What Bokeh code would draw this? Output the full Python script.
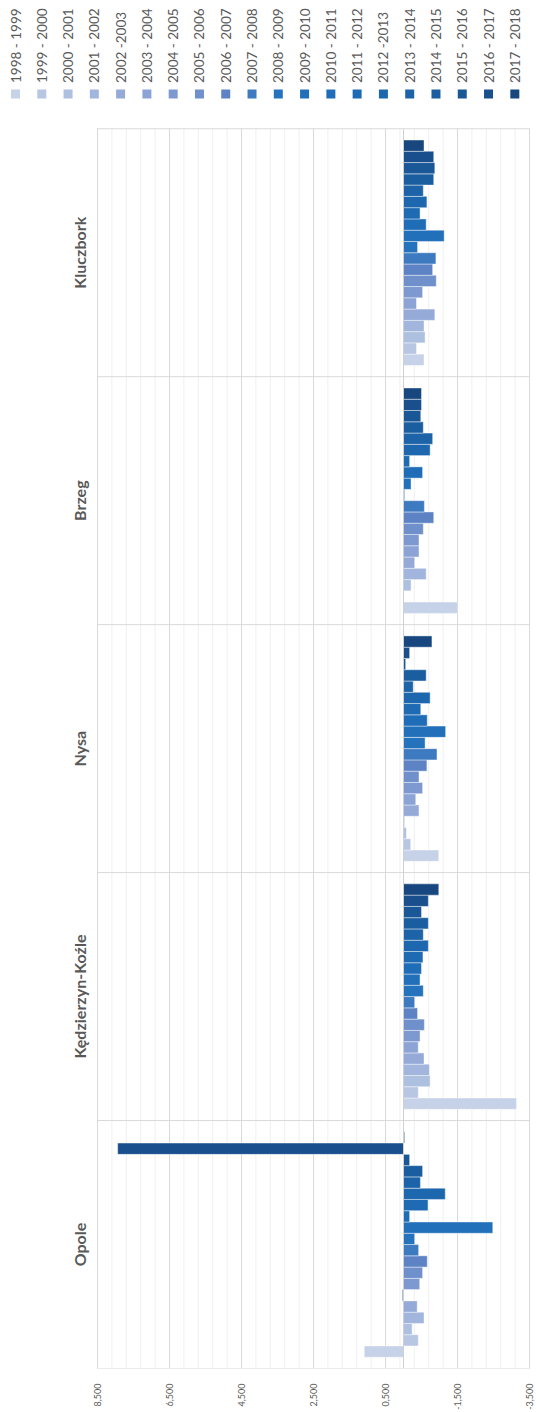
import math
import numpy as np
from bokeh.plotting import figure
from bokeh.models import ColumnDataSource, Range1d, FixedTicker, CustomJSTickFormatter
from bokeh.core.properties import value
from bokeh.embed import file_html
from bokeh.resources import INLINE

# ---------------- data ----------------
cities = ["Opole", "Kędzierzyn-Koźle", "Nysa", "Brzeg", "Kluczbork"]
periods = ["1998 - 1999", "1999 - 2000", "2000 - 2001", "2001 - 2002", "2002 -2003",
           "2003 - 2004", "2004 - 2005", "2005 - 2006", "2006 - 2007", "2007 - 2008",
           "2008 - 2009", "2009 - 2010", "2010 - 2011", "2011 - 2012", "2012 -2013",
           "2013 - 2014", "2014 - 2015", "2015 - 2016", "2016 - 2017", "2017 - 2018"]
colors = ["#C6D2E7", "#B8C6E3", "#AEC0E0", "#A2B5DD", "#96AAD8", "#8BA3D5", "#7E99CF",
          "#6F90CB", "#5D83C5", "#3E7AC0", "#2573BD", "#2270BA", "#1F6DB7", "#1F6BB3",
          "#1D67AE", "#1C63A8", "#1B5EA0", "#1A5797", "#194F8C", "#17477E"]

opole = [1.09, -0.41, -0.24, -0.57, -0.38, 0.04, -0.45, -0.53, -0.66, -0.42,
         -0.31, -2.48, -0.17, -0.68, -1.16, -0.47, -0.53, -0.17, 7.94, -0.03]
kedzierzyn = [-3.14, -0.41, -0.74, -0.72, -0.57, -0.41, -0.46, -0.58, -0.39, -0.31,
              -0.55, -0.46, -0.50, -0.54, -0.69, -0.55, -0.69, -0.50, -0.69, -0.98]
nysa = [-0.98, -0.20, -0.08, -0.03, -0.43, -0.34, -0.53, -0.43, -0.65, -0.93,
        -0.60, -1.17, -0.66, -0.48, -0.74, -0.27, -0.63, -0.06, -0.17, -0.79]
brzeg = [-1.51, 0.00, -0.21, -0.63, -0.31, -0.43, -0.43, -0.55, -0.84, -0.58,
         -0.03, -0.21, -0.53, -0.17, -0.74, -0.81, -0.55, -0.48, -0.50, -0.50]
kluczbork = [-0.57, -0.36, -0.60, -0.57, -0.87, -0.36, -0.53, -0.91, -0.81, -0.90,
             -0.39, -1.13, -0.63, -0.46, -0.65, -0.55, -0.84, -0.87, -0.84, -0.57]

x_ticks = [8.5, 6.5, 4.5, 2.5, 0.5, -1.5, -3.5]
x_minor_step = 0.4

# ---------------- layout constants (pixels on the canvas) ----------------
W, H = 536, 1412
PLOT_L, PLOT_R = 97, 529          # plot box, x
PLOT_T, PLOT_B = 129, 1376        # plot box, y (from the top)
BOTTOM = H - PLOT_B               # room for the value labels

series = [opole, kedzierzyn, nysa, brzeg, kluczbork]
n_per = len(periods)
slot = n_per + 2                  # 20 bars + a half-gap on each side
y_top = slot * len(cities)

xs_per_px = (x_ticks[0] - x_ticks[-1]) / (PLOT_R - PLOT_L)
x_start = x_ticks[0] + PLOT_L * xs_per_px
x_end = x_ticks[-1] - (W - PLOT_R) * xs_per_px
ys_per_px = y_top / (PLOT_B - PLOT_T)
y_end = y_top + PLOT_T * ys_per_px

def px_to_x(px):
    return x_ticks[0] - (px - PLOT_L) * xs_per_px

def px_to_y(py):
    return y_top + (PLOT_T - py) * ys_per_px

# ---------------- sources ----------------
ys, vs, cs = [], [], []
for i, vals in enumerate(series):
    for j, v in enumerate(vals):
        ys.append(i * slot + 1.5 + j)
        vs.append(v)
        cs.append(colors[j])
src = ColumnDataSource(dict(y=ys, v=vs, color=cs))

GRID = "#D9D9D9"
MINOR = "#EFEFEF"
TXT = "#595959"

p = figure(width=W, height=H, x_range=Range1d(x_start, x_end), y_range=Range1d(0, y_end),
           output_backend="svg", toolbar_location=None, y_axis_location=None,
           min_border=0, min_border_bottom=BOTTOM)
p.background_fill_color = "white"
p.border_fill_color = "white"
p.outline_line_color = None
p.grid.visible = False

# grid lines (only inside the plot box)
minor = [float(t) for t in np.round(np.arange(x_ticks[-1], x_ticks[0] + 1e-6, x_minor_step), 3)]
p.segment(x0=minor, x1=minor, y0=0, y1=y_top, line_color=MINOR, line_width=1)
p.segment(x0=x_ticks, x1=x_ticks, y0=0, y1=y_top, line_color=GRID, line_width=1)
seps = [slot * k for k in range(1, len(cities))]
p.segment(x0=x_ticks[0], x1=x_ticks[-1], y0=seps, y1=seps, line_color=GRID, line_width=1)

# bars
p.hbar(y="y", left=0, right="v", height=1, fill_color="color",
       line_color="white", line_width=0.6, line_alpha=0.7, source=src)

# zero line and box outline
p.segment(x0=0, x1=0, y0=0, y1=y_top, line_color="#D0D0D0", line_width=1)
p.quad(left=x_ticks[0], right=x_ticks[-1], bottom=0, top=y_top,
       fill_color=None, line_color=GRID, line_width=1)

# value axis
xt = FixedTicker(ticks=x_ticks, minor_ticks=[])
p.xaxis.ticker = xt
p.xaxis.axis_line_color = None
p.xaxis.major_tick_line_color = None
p.xaxis.minor_tick_line_color = None
p.xaxis.major_label_orientation = math.pi / 2
p.xaxis.major_label_standoff = 9
p.xaxis.formatter = CustomJSTickFormatter(code="return tick.toFixed(3).replace('.', ',');")
p.xaxis.major_label_text_font = "Lato"
p.xaxis.major_label_text_font_size = "9px"
p.xaxis.major_label_text_color = TXT

# category labels
centers = [i * slot + slot / 2 for i in range(len(cities))]
csrc = ColumnDataSource(dict(y=centers, name=cities))
p.text(x=px_to_x(79), y="y", text="name", angle=math.pi / 2, text_align="center",
       text_baseline="middle", text_font=value("Lato"), text_font_style="bold",
       text_font_size="16px", text_color=TXT, source=csrc)

# legend (across the top, texts rotated)
leg_x = [px_to_x(15 + 26.28 * k) for k in range(n_per)]
lsrc = ColumnDataSource(dict(x=leg_x, label=periods, color=colors))
p.text(x="x", y=px_to_y(83), text="label", angle=math.pi / 2, text_align="left",
       text_baseline="middle", text_font=value("Lato"), text_font_size="13.5px",
       text_color=TXT, source=lsrc)
p.scatter(x="x", y=px_to_y(94), marker="square", size=9, fill_color="color",
          line_color=None, source=lsrc)

open("out.html", "w").write(file_html(p, INLINE))
